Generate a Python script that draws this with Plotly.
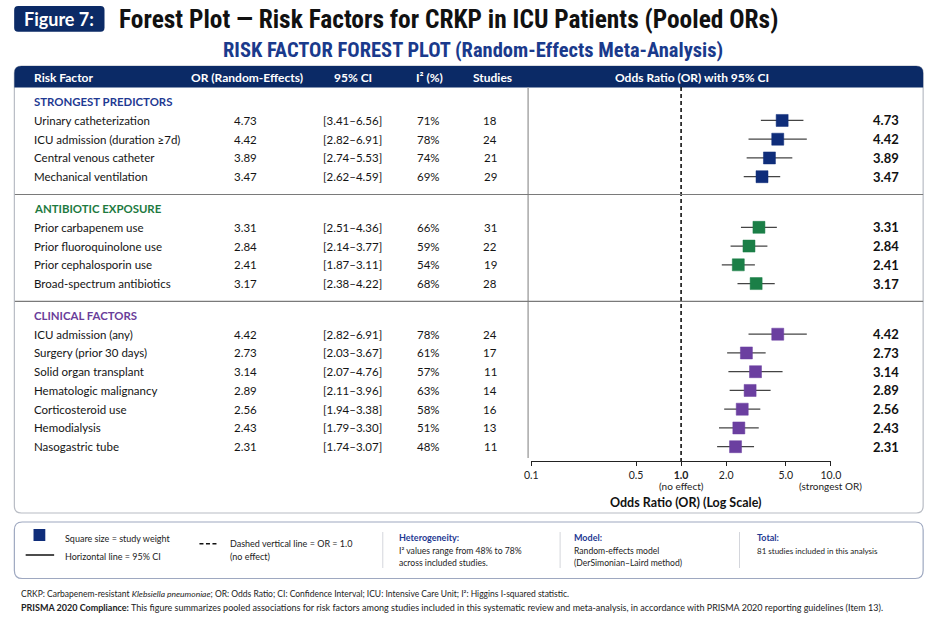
import plotly.graph_objects as go

W, H = 941, 627

# datos de la tabla (por seccion)
sections = ["STRONGEST PREDICTORS", "ANTIBIOTIC EXPOSURE", "CLINICAL FACTORS"]
section_colors = ["#1f3a93", "#1e7a3f", "#6a3d9a"]
marker_colors = ["#0f2d7a", "#1b7f47", "#6b3fa0"]

factors_strong = ["Urinary catheterization", "ICU admission (duration ≥7d)",
                  "Central venous catheter", "Mechanical ventilation"]
or_strong = [4.73, 4.42, 3.89, 3.47]
lo_strong = [3.41, 2.82, 2.74, 2.62]
hi_strong = [6.56, 6.91, 5.53, 4.59]
i2_strong = [71, 78, 74, 69]
studies_strong = [18, 24, 21, 29]

factors_abx = ["Prior carbapenem use", "Prior fluoroquinolone use",
               "Prior cephalosporin use", "Broad-spectrum antibiotics"]
or_abx = [3.31, 2.84, 2.41, 3.17]
lo_abx = [2.51, 2.14, 1.87, 2.38]
hi_abx = [4.36, 3.77, 3.11, 4.22]
i2_abx = [66, 59, 54, 68]
studies_abx = [31, 22, 19, 28]

factors_clin = ["ICU admission (any)", "Surgery (prior 30 days)", "Solid organ transplant",
                "Hematologic malignancy", "Corticosteroid use", "Hemodialysis", "Nasogastric tube"]
or_clin = [4.42, 2.73, 3.14, 2.89, 2.56, 2.43, 2.31]
lo_clin = [2.82, 2.03, 2.07, 2.11, 1.94, 1.79, 1.74]
hi_clin = [6.91, 3.67, 4.76, 3.96, 3.38, 3.30, 3.07]
i2_clin = [78, 61, 57, 63, 58, 51, 48]
studies_clin = [24, 17, 11, 14, 16, 13, 11]

tick_vals = [0.1, 0.5, 1, 2, 5, 10]
tick_text = ["0.1", "0.5", "<b>1.0</b>", "2.0", "5.0", "10.0"]

groups = [
    (factors_strong, or_strong, lo_strong, hi_strong, i2_strong, studies_strong),
    (factors_abx, or_abx, lo_abx, hi_abx, i2_abx, studies_abx),
    (factors_clin, or_clin, lo_clin, hi_clin, i2_clin, studies_clin),
]

FONT = "Lato, 'Open Sans', sans-serif"
NARROW = "'Liberation Sans Narrow', 'Roboto Condensed', 'DejaVu Sans Condensed', sans-serif"
NAVY = "#0b2a66"
TXT = "#141414"


def px(x):
    return x / W


def py(y):
    return 1 - y / H


def rrect(x0, y0, x1, y1, r, top_only=False):
    rx, ry = r / W, r / H
    a0, b0, a1, b1 = px(x0), py(y0), px(x1), py(y1)
    if top_only:
        return (f"M{a0},{b1} L{a0},{b0 - ry} Q{a0},{b0} {a0 + rx},{b0} "
                f"L{a1 - rx},{b0} Q{a1},{b0} {a1},{b0 - ry} L{a1},{b1} Z")
    return (f"M{a0 + rx},{b0} L{a1 - rx},{b0} Q{a1},{b0} {a1},{b0 - ry} "
            f"L{a1},{b1 + ry} Q{a1},{b1} {a1 - rx},{b1} L{a0 + rx},{b1} "
            f"Q{a0},{b1} {a0},{b1 + ry} L{a0},{b0 - ry} Q{a0},{b0} {a0 + rx},{b0} Z")


# posiciones de filas en "slots" (cabecera de seccion + filas + hueco)
slot_px = 18.75
slot0_px = 101.7
header_slots = []
row_slots = []
cur = 0.0
for g in groups:
    header_slots.append(cur)
    row_slots.append([cur + 1 + i for i in range(len(g[0]))])
    cur += len(g[0]) + 1.7

y_top = (87 - slot0_px) / slot_px
y_bot = (461 - slot0_px) / slot_px

fig = go.Figure()

shapes = []
ann = []

# paneles
shapes.append(dict(type="path", path=rrect(7.5, 66, 933, 513, 7), xref="paper", yref="paper",
                   line=dict(color="#b8bcc4", width=1.2), fillcolor="white", layer="below"))
shapes.append(dict(type="path", path=rrect(7.5, 66, 933, 87.5, 7, top_only=True), xref="paper",
                   yref="paper", line=dict(width=0), fillcolor=NAVY, layer="below"))
shapes.append(dict(type="line", x0=px(530.7), x1=px(530.7), y0=py(87.5), y1=py(458),
                   xref="paper", yref="paper", line=dict(color="#a8a8a8", width=1.5)))
for hs in header_slots[1:]:
    shapes.append(dict(type="line", x0=px(8), x1=px(933), y0=hs - 0.75, y1=hs - 0.75,
                       xref="paper", yref="y", line=dict(color="#7a7a7a", width=1.2)))

# cabecera figura
shapes.append(dict(type="path", path=rrect(7.3, 6, 99.3, 31.7, 4), xref="paper", yref="paper",
                   line=dict(width=0), fillcolor=NAVY))
ann.append(dict(x=px(53.3), y=py(19), text="<b>Figure 7:</b>",
                font=dict(family=FONT, size=18, color="white")))
ann.append(dict(x=px(112), y=py(19.5), xanchor="left",
                text="<b>Forest Plot — Risk Factors for CRKP in ICU Patients (Pooled ORs)</b>",
                font=dict(family=NARROW, size=25.4, color="#111111")))
ann.append(dict(x=px(475), y=py(50.5),
                text="<b>RISK FACTOR FOREST PLOT (Random-Effects Meta-Analysis)</b>",
                font=dict(family=NARROW, size=20.5, color="#1a3a8c")))

# cabecera tabla
hdr_font = dict(family=FONT, size=12, color="white")
ann.append(dict(x=px(25), y=py(77.5), xanchor="left", text="<b>Risk Factor</b>", font=hdr_font))
for xx, t in [(244, "OR (Random-Effects)"), (352, "95% CI"), (430, "I² (%)"),
              (494, "Studies"), (698, "Odds Ratio (OR) with 95% CI")]:
    ann.append(dict(x=px(xx), y=py(77.5), text=f"<b>{t}</b>", font=hdr_font))

# filas
cell_font = dict(family=FONT, size=11.5, color=TXT)
for k, g in enumerate(groups):
    names, ors, los, his, i2s, sts = g
    ann.append(dict(x=px(25), y=header_slots[k], yref="y", xanchor="left",
                    text=f"<b>{sections[k]}</b>",
                    font=dict(family=FONT, size=11.4, color=section_colors[k])))
    for i, ys in enumerate(row_slots[k]):
        ann.append(dict(x=px(25), y=ys, yref="y", xanchor="left", text=names[i], font=cell_font))
        ann.append(dict(x=px(243), y=ys, yref="y", text=f"{ors[i]:.2f}", font=cell_font))
        ann.append(dict(x=px(352), y=ys, yref="y", text=f"[{los[i]:.2f}–{his[i]:.2f}]", font=cell_font))
        ann.append(dict(x=px(429), y=ys, yref="y", text=f"{i2s[i]}%", font=cell_font))
        ann.append(dict(x=px(492), y=ys, yref="y", text=f"{sts[i]}", font=cell_font))
        ann.append(dict(x=px(910), y=ys, yref="y", xanchor="right", text=f"<b>{ors[i]:.2f}</b>",
                        font=dict(family=FONT, size=13, color="#111111")))

    fig.add_scatter(
        x=ors, y=row_slots[k], mode="markers",
        marker=dict(symbol="square", size=12, color=marker_colors[k],
                    line=dict(color=marker_colors[k], width=0.5)),
        error_x=dict(type="data", symmetric=False,
                     array=[h - o for h, o in zip(his, ors)],
                     arrayminus=[o - l for o, l in zip(ors, los)],
                     width=0, thickness=1.3, color="#444444"),
        showlegend=False, hoverinfo="skip",
    )

# linea OR = 1
fig.add_scatter(x=[1, 1], y=[y_top, y_bot], mode="lines",
                line=dict(color="#111111", width=1.6, dash="4px,3px"),
                showlegend=False, hoverinfo="skip")

# textos bajo el eje
ann.append(dict(x=0, xref="x", y=py(485.7), text="(no effect)",
                font=dict(family=FONT, size=10, color="#222222")))
ann.append(dict(x=1, xref="x", y=py(485.7), text="(strongest OR)",
                font=dict(family=FONT, size=10, color="#222222")))
ann.append(dict(x=px(691), y=py(502.7), text="<b>Odds Ratio (OR) (Log Scale)</b>",
                font=dict(family=FONT, size=12.5, color="#111111")))

# leyenda inferior
shapes.append(dict(type="path", path=rrect(7.5, 522, 933, 578.5, 8), xref="paper", yref="paper",
                   line=dict(color="#9ea8c0", width=1.2), fillcolor="white"))
shapes.append(dict(type="rect", x0=px(27), x1=px(39), y0=py(529), y1=py(541), xref="paper",
                   yref="paper", line=dict(width=0), fillcolor="#0f2d7a"))
shapes.append(dict(type="line", x0=px(19), x1=px(48), y0=py(555), y1=py(555), xref="paper",
                   yref="paper", line=dict(color="#111111", width=1.5)))
shapes.append(dict(type="line", x0=px(196), x1=px(214), y0=py(543.7), y1=py(543.7), xref="paper",
                   yref="paper", line=dict(color="#111111", width=1.5, dash="4px,2.5px")))
for sx in [382.7, 563.3, 746]:
    shapes.append(dict(type="line", x0=px(sx), x1=px(sx), y0=py(532), y1=py(568), xref="paper",
                       yref="paper", line=dict(color="#d4d6dc", width=1)))

leg_font = dict(family=FONT, size=9, color="#222222")
leg_small = dict(family=FONT, size=8.6, color="#222222")
leg_head = dict(family=FONT, size=9, color="#1f3a93")
for xx, yy, t, f in [
    (56.7, 538.3, "Square size = study weight", leg_font),
    (56.7, 556.3, "Horizontal line = 95% CI", leg_font),
    (225, 543.3, "Dashed vertical line = OR = 1.0", leg_font),
    (225, 556.3, "(no effect)", leg_font),
    (396.7, 537.7, "<b>Heterogeneity:</b>", leg_head),
    (396.7, 551, "I² values range from 48% to 78%", leg_small),
    (396.7, 562.7, "across included studies.", leg_small),
    (575.7, 537.7, "<b>Model:</b>", leg_head),
    (575.7, 551, "Random-effects model", leg_small),
    (575.7, 562.7, "(DerSimonian–Laird method)", leg_small),
    (761.7, 537.7, "<b>Total:</b>", leg_head),
    (761.7, 551, "81 studies included in this analysis", dict(family=FONT, size=8, color="#222222")),
]:
    ann.append(dict(x=px(xx), y=py(yy), xanchor="left", text=t, font=f))

ann.append(dict(x=px(12), y=py(593.7), xanchor="left", font=dict(family=FONT, size=8.5, color="#222222"),
                text="CRKP: Carbapenem-resistant <i>Klebsiella pneumoniae</i>; OR: Odds Ratio; "
                     "CI: Confidence Interval; ICU: Intensive Care Unit; I²: Higgins I-squared statistic."))
ann.append(dict(x=px(12), y=py(607.7), xanchor="left", font=dict(family=FONT, size=9, color="#222222"),
                text="<b>PRISMA 2020 Compliance:</b> This figure summarizes pooled associations for risk "
                     "factors among studies included in this systematic review and meta-analysis, in "
                     "accordance with PRISMA 2020 reporting guidelines (Item 13)."))

for a in ann:
    a.setdefault("xref", "paper")
    a.setdefault("yref", "paper")
    a.setdefault("showarrow", False)
    a.setdefault("xanchor", "center")
    a.setdefault("yanchor", "middle")

fig.update_layout(
    width=W, height=H, autosize=False,
    margin=dict(l=0, r=0, t=0, b=0),
    paper_bgcolor="white", plot_bgcolor="rgba(0,0,0,0)",
    font=dict(family=FONT),
    shapes=shapes, annotations=ann,
    showlegend=False,
    xaxis=dict(type="log", domain=[px(534), px(839)], range=[-1, 1.0],
               showline=True, linecolor="#222222", linewidth=1.2,
               ticks="outside", ticklen=4, tickcolor="#222222",
               tickvals=tick_vals, ticktext=tick_text,
               tickfont=dict(family=FONT, size=10.5, color="#222222"),
               showgrid=False, zeroline=False, fixedrange=True),
    yaxis=dict(domain=[py(461), py(87)], range=[y_bot, y_top], visible=False, fixedrange=True),
)

# sin margen del body para que la figura ocupe la ventana exacta
fig.write_html("out.html", config={"displayModeBar": False},
               post_script="document.body.style.margin='0';document.body.style.overflow='hidden';")
